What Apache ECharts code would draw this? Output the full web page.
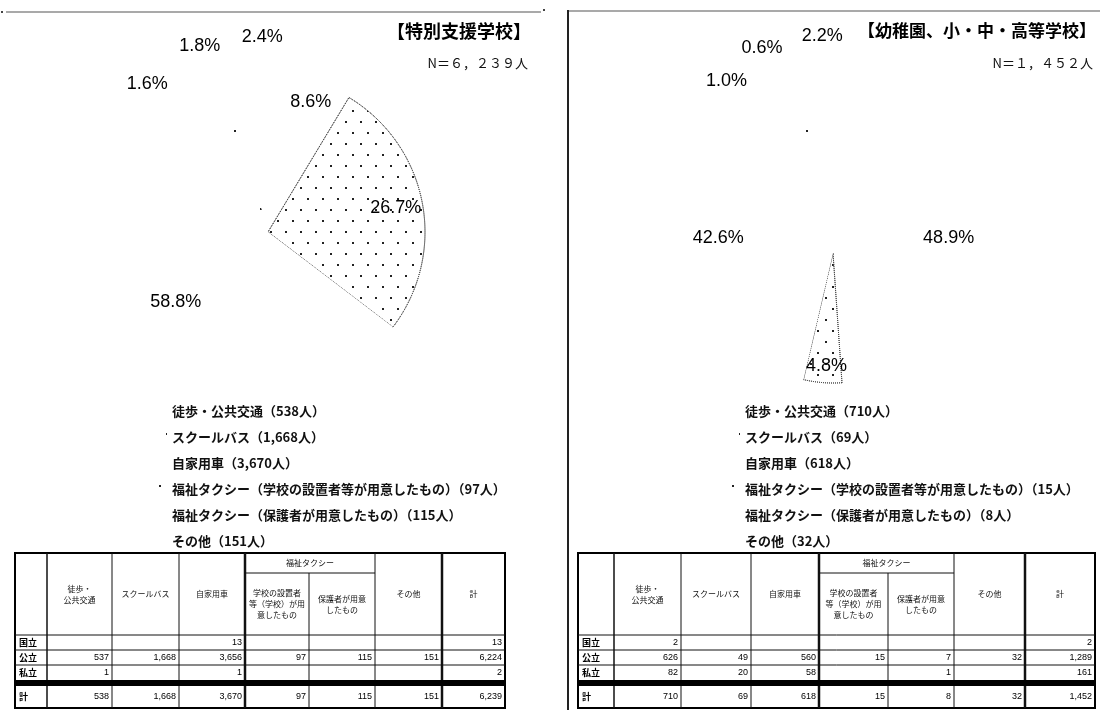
<!DOCTYPE html>
<html>
<head>
<meta charset="utf-8">
<script src="https://cdn.jsdelivr.net/npm/echarts@6/dist/echarts.min.js"></script>
<style>
  html, body { margin: 0; padding: 0; background: #fff; }
  #chart { width: 1100px; height: 710px; }
</style>
</head>
<body>
<div id="chart"></div>
<script>
// ---- data ----
const categories = [
  '徒歩・公共交通',
  'スクールバス',
  '自家用車',
  '福祉タクシー（学校の設置者等が用意したもの）',
  '福祉タクシー（保護者が用意したもの）',
  'その他'
];
// 特別支援学校
const specialCounts = [538, 1668, 3670, 97, 115, 151];
// 幼稚園、小・中・高等学校
const regularCounts = [710, 69, 618, 15, 8, 32];

// table: columns = categories (福祉タクシー split in two) + 計
const tableRowLabels = ['国立', '公立', '私立', '計'];
const tableHeaders = ['徒歩・\n公共交通', 'スクールバス', '自家用車',
  '学校の設置者\n等（学校）が用\n意したもの', '保護者が用意\nしたもの', 'その他', '計'];
const tableGroupHeader = '福祉タクシー';

const specialNational = [null, null, 13, null, null, null, 13];
const specialPublic   = [537, 1668, 3656, 97, 115, 151, 6224];
const specialPrivate  = [1, null, 1, null, null, null, 2];

const regularNational = [2, null, null, null, null, null, 2];
const regularPublic   = [626, 49, 560, 15, 7, 32, 1289];
const regularPrivate  = [82, 20, 58, null, 1, null, 161];

// ---- styles ----
const JP = '"Noto Sans CJK JP", "Noto Sans", sans-serif';
const LAT = '"Liberation Sans", Arial, sans-serif';

const busDecal = {
  symbol: 'rect', symbolSize: 1,
  dashArrayX: [[1.3, 13], [0, 7, 1.3, 6]],
  dashArrayY: [1.3, 8.5],
  color: '#222'
};
const sparseDecal = {
  symbol: 'rect', symbolSize: 1,
  dashArrayX: [1.5, 24], dashArrayY: [1.5, 24],
  color: '#222'
};
const sliceStyles = [
  { color: '#fff', borderWidth: 0 },
  { color: '#fff', decal: busDecal, borderWidth: 1, borderType: 'dotted', borderColor: '#444' },
  { color: '#fff', borderWidth: 0 },
  { color: '#fff', decal: sparseDecal, borderWidth: 0 },
  { color: '#fff', borderWidth: 0 },
  { color: '#fff', borderWidth: 0 }
];

const fmt = v => v.toLocaleString('en-US');
const sum = a => a.reduce((s, v) => s + v, 0);

// ---- panel layout ----
const panels = [
  {
    title: '【特別支援学校】', titleSize: 18, n: 'N＝６，２３９人', counts: specialCounts,
    rows: [specialNational, specialPublic, specialPrivate],
    center: [268, 232], r: 157, innerRing: 0.62, smallR: 205,
    bigNudges: { 0: [8, -5], 2: [12, -8] },
    smallNudges: { 3: [-56, 50], 4: [-25, 17], 5: [10, 12] },
    titleRight: 531, legendLeft: 154,
    cols: [15, 47, 112, 179, 245, 309, 375, 442, 505]
  },
  {
    title: '【幼稚園、小・中・高等学校】', titleSize: 17, n: 'N＝１，４５２人', counts: regularCounts,
    rows: [regularNational, regularPublic, regularPrivate],
    center: [833, 253], r: 130, innerRing: 0.78, smallR: 210,
    bigNudges: { 0: [-3, -11], 1: [3, -5], 2: [4, -15] },
    smallNudges: { 3: [-63, 37], 4: [-38, 5], 5: [4, -4] },
    titleRight: 1096, legendLeft: 727,
    cols: [578, 614, 681, 751, 819, 888, 954, 1025, 1095]
  }
];

const series = [];
const legends = [];
const graphics = [];

// panel frames
graphics.push(
  { type: 'line', shape: { x1: 6, y1: 12, x2: 541, y2: 12 }, style: { stroke: '#555', lineWidth: 1.2 } },
  { type: 'rect', shape: { x: 1, y: 11, width: 2, height: 2 }, style: { fill: '#444' } },
  { type: 'rect', shape: { x: 543, y: 9, width: 2, height: 2 }, style: { fill: '#444' } },
  { type: 'line', shape: { x1: 568, y1: 11, x2: 1100, y2: 11 }, style: { stroke: '#555', lineWidth: 1.2 } },
  { type: 'line', shape: { x1: 568, y1: 10, x2: 568, y2: 710 }, style: { stroke: '#222', lineWidth: 2 } }
);

panels.forEach(p => {
  const total = sum(p.counts);
  const pct = v => (v / total * 100).toFixed(1) + '%';
  const data = categories.map((c, i) => ({ name: c, value: p.counts[i], itemStyle: sliceStyles[i] }));
  const isSmall = i => p.counts[i] / total < 0.04;
  const labelStyle = { fontFamily: LAT, fontSize: 18, color: '#000' };
  const nudge = table => prm => {
    const d = table[prm.dataIndex];
    return d ? { dx: d[0], dy: d[1] } : {};
  };

  // visible pie
  series.push({
    type: 'pie', center: p.center, radius: [0, p.r], startAngle: 90, clockwise: true,
    data, silent: true, label: { show: false }, labelLine: { show: false },
    emphasis: { disabled: true }, avoidLabelOverlap: false
  });

  // percentages of the larger slices, on a transparent ring near the rim
  series.push({
    type: 'pie', center: p.center, radius: [p.r * p.innerRing, p.r], startAngle: 90, clockwise: true,
    silent: true, emphasis: { disabled: true }, avoidLabelOverlap: false, legendHoverLink: false,
    itemStyle: { color: 'rgba(0,0,0,0)', borderWidth: 0 },
    data: categories.map((c, i) => ({ name: c + ' ', value: p.counts[i], label: { show: !isSmall(i) } })),
    label: Object.assign({ position: 'inside', formatter: prm => pct(prm.value) }, labelStyle),
    labelLine: { show: false },
    labelLayout: nudge(p.bigNudges)
  });
  // percentages of the thin slices, outside the pie
  series.push({
    type: 'pie', center: p.center, radius: [p.smallR - 10, p.smallR + 10], startAngle: 90, clockwise: true,
    silent: true, emphasis: { disabled: true }, avoidLabelOverlap: false, legendHoverLink: false,
    itemStyle: { color: 'rgba(0,0,0,0)', borderWidth: 0 },
    data: categories.map((c, i) => ({ name: c + '  ', value: p.counts[i], label: { show: isSmall(i) } })),
    label: Object.assign({ position: 'inside', formatter: prm => pct(prm.value) }, labelStyle),
    labelLine: { show: false },
    labelLayout: nudge(p.smallNudges)
  });

  // legend
  legends.push({
    orient: 'vertical', left: p.legendLeft, top: 398,
    data: categories.slice(),
    icon: 'rect', itemWidth: 8, itemHeight: 8, itemGap: 10,
    itemStyle: { borderWidth: 0 },
    selectedMode: false,
    formatter: name => name + '（' + fmt(p.counts[categories.indexOf(name)]) + '人）',
    textStyle: { fontFamily: JP, fontSize: 13, fontWeight: 'bold', color: '#111', lineHeight: 16 }
  });

  // titles
  graphics.push(
    { type: 'text', x: p.titleRight, y: 31, style: { text: p.title, font: 'bold ' + p.titleSize + 'px ' + JP, fill: '#000', align: 'right', verticalAlign: 'middle' } },
    { type: 'text', x: p.titleRight - 3, y: 63, style: { text: p.n, font: '13px ' + JP, fill: '#111', align: 'right', verticalAlign: 'middle' } }
  );

  // ---- table ----
  const xs = p.cols;
  const top = 553, grp = 573, hdr = 635, bottom = 708;
  const rowY = [635, 650, 665, 680, 686, 708];
  const totalRow = p.counts.slice().concat([total]);
  const rows = p.rows.concat([totalRow]);
  const rowBounds = [[rowY[0], rowY[1]], [rowY[1], rowY[2]], [rowY[2], rowY[3]], [rowY[4], rowY[5]]];

  graphics.push({ type: 'rect', shape: { x: xs[0], y: top, width: xs[8] - xs[0], height: bottom - top }, style: { fill: '#fff', stroke: '#000', lineWidth: 2 } });
  for (let c = 1; c < 8; c++) {
    const w = (c === 4 || c === 7) ? 2.5 : (c === 1 ? 1.5 : 1);
    const y1 = c === 5 ? grp : top;
    graphics.push({ type: 'line', shape: { x1: xs[c], y1, x2: xs[c], y2: bottom }, style: { stroke: '#111', lineWidth: w } });
  }
  graphics.push({ type: 'line', shape: { x1: xs[4], y1: grp, x2: xs[6], y2: grp }, style: { stroke: '#111', lineWidth: 1 } });
  [hdr, rowY[1], rowY[2]].forEach(y => graphics.push({ type: 'line', shape: { x1: xs[0], y1: y, x2: xs[8], y2: y }, style: { stroke: '#111', lineWidth: 1 } }));
  graphics.push({ type: 'rect', shape: { x: xs[0], y: rowY[3], width: xs[8] - xs[0], height: rowY[4] - rowY[3] }, style: { fill: '#000' } });

  graphics.push({ type: 'text', x: (xs[4] + xs[6]) / 2, y: (top + grp) / 2, style: { text: tableGroupHeader, font: '8px ' + JP, fill: '#111', align: 'center', verticalAlign: 'middle' } });
  tableHeaders.forEach((h, c) => {
    const y0 = (c === 3 || c === 4) ? grp : top;
    graphics.push({ type: 'text', x: (xs[c + 1] + xs[c + 2]) / 2, y: (y0 + hdr) / 2, style: { text: h, font: '8px ' + JP, fill: '#111', align: 'center', verticalAlign: 'middle', lineHeight: 11 } });
  });
  rows.forEach((vals, r) => {
    const [y0, y1] = rowBounds[r];
    const yc = (y0 + y1) / 2;
    graphics.push({ type: 'text', x: xs[0] + 4, y: yc, style: { text: tableRowLabels[r], font: 'bold 9px ' + JP, fill: '#000', align: 'left', verticalAlign: 'middle' } });
    vals.forEach((v, c) => {
      if (v === null) return;
      graphics.push({ type: 'text', x: xs[c + 2] - 3, y: yc, style: { text: fmt(v), font: '9px ' + LAT, fill: '#000', align: 'right', verticalAlign: 'middle' } });
    });
  });
});

const chart = echarts.init(document.getElementById('chart'), null, { renderer: 'canvas' });
chart.setOption({
  backgroundColor: '#fff',
  animation: false,
  legend: legends,
  series,
  graphic: { elements: graphics }
});
</script>
</body>
</html>
